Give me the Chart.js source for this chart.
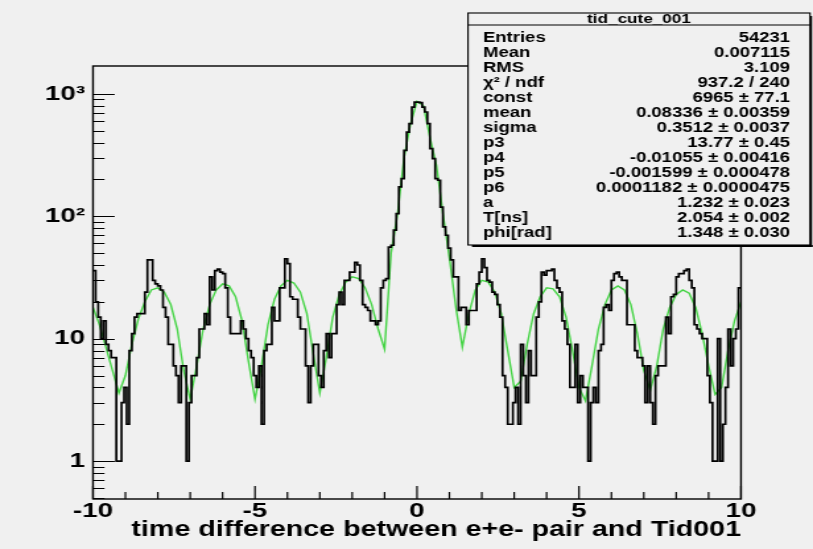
<!DOCTYPE html>
<html>
<head>
<meta charset="utf-8">
<script src="https://cdn.jsdelivr.net/npm/chart.js@4.4.1/dist/chart.umd.min.js"></script>
<style>
  html, body { margin: 0; padding: 0; background: #f0f0f0; }
  #wrap { width: 813px; height: 549px; overflow: hidden; }
  canvas { display: block; }
</style>
</head>
<body>
<div id="wrap"><canvas id="c" width="616" height="549" style="width:813px;height:549px"></canvas></div>
<script>
// Histogram of the time difference (ns), 250 bins from -10 to 10
const histMin = -10;
const histMax = 10;
const binWidth = 0.08;
const binCounts = [
  36, 20, 15, 10, 14, 9, 8, 7, 7, 1,
  1, 3, 4, 2, 8, 11, 15, 16, 16, 16,
  24, 44, 44, 30, 28, 27, 25, 18, 15, 9,
  9, 6, 5, 3, 6, 6, 1, 3, 5, 5,
  7, 12, 12, 16, 13, 32, 25, 36, 37, 35,
  34, 26, 15, 11, 11, 11, 11, 14, 12, 10,
  8, 7, 5, 4, 6, 2, 8, 9, 9, 18,
  14, 14, 26, 26, 45, 41, 22, 21, 21, 15,
  12, 12, 6, 3, 6, 9, 9, 5, 4, 8,
  11, 7, 11, 11, 19, 24, 19, 30, 30, 35,
  35, 42, 40, 30, 19, 18, 17, 14, 14, 13,
  14, 26, 30, 31, 56, 58, 77, 105, 174, 203,
  346, 488, 571, 781, 857, 857, 850, 781, 711, 571,
  357, 296, 203, 197, 119, 82, 70, 55, 44, 32,
  32, 17, 18, 18, 13, 17, 17, 17, 28, 35,
  45, 38, 30, 29, 24, 23, 19, 15, 5, 4,
  2, 2, 3, 4, 2, 9, 5, 3, 8, 5,
  5, 15, 20, 35, 33, 36, 36, 37, 30, 26,
  24, 14, 12, 9, 4, 4, 9, 3, 5, 4,
  4, 1, 3, 4, 3, 8, 9, 18, 19, 17,
  30, 34, 35, 32, 30, 30, 13, 13, 13, 8,
  7, 7, 6, 3, 6, 3, 2, 5, 6, 6,
  6, 15, 11, 22, 23, 32, 34, 34, 36, 37,
  30, 26, 13, 12, 11, 10, 10, 5, 3, 1,
  1, 10, 1, 2, 4, 12, 6, 10, 12, 26
];

// Fitted function (gaussian peak on an oscillating background), sampled
const fitX = [
  -10, -9.8, -9.6, -9.4, -9.2, -9.0, -8.8, -8.6, -8.4, -8.2,
  -8.0, -7.8, -7.6, -7.4, -7.2, -7.0, -6.8, -6.6, -6.4, -6.2,
  -6.0, -5.8, -5.6, -5.4, -5.2, -5.0, -4.8, -4.6, -4.4, -4.2,
  -4.0, -3.8, -3.6, -3.4, -3.2, -3.0, -2.8, -2.6, -2.4, -2.2,
  -2.0, -1.8, -1.6, -1.4, -1.2, -1.0, -0.8, -0.6, -0.4, -0.2,
  0.0, 0.2, 0.4, 0.6, 0.8, 1.0, 1.2, 1.4, 1.6, 1.8,
  2.0, 2.2, 2.4, 2.6, 2.8, 3.0, 3.2, 3.4, 3.6, 3.8,
  4.0, 4.2, 4.4, 4.6, 4.8, 5.0, 5.2, 5.4, 5.6, 5.8,
  6.0, 6.2, 6.4, 6.6, 6.8, 7.0, 7.2, 7.4, 7.6, 7.8,
  8.0, 8.2, 8.4, 8.6, 8.8, 9.0, 9.2, 9.4, 9.6, 9.8, 10.0
];
const fitY = [
  18, 13, 8.5, 5.5, 3.6, 5, 9, 14.5, 20, 25,
  26, 24, 19, 12, 5.5, 3.2, 6, 12, 19, 25,
  28, 27, 22, 14, 6.5, 3.2, 6, 13, 21, 27,
  30, 28.5, 24, 16, 7.5, 3.6, 7, 15, 23, 29,
  32, 31, 26, 19, 12, 8.2, 50, 105, 300, 570,
  870, 800, 440, 260, 105, 46, 18, 8.5, 16, 25,
  30, 29, 24, 16, 8, 4, 4.5, 9, 16, 22,
  26, 25.5, 22, 15, 8, 4, 3.1, 6, 12, 19,
  25, 27, 25, 19, 11, 5.5, 3.8, 6, 12, 18,
  23, 25, 23.5, 18, 11, 6, 3.5, 4, 8, 14, 20
];

// Axis labels
const xTickValues = [-10, -5, 0, 5, 10];
const xTickText = ['-10', '-5', '0', '5', '10'];
const yTickValues = [1, 10, 100, 1000];
const yTickText = ['1', '10', '10\u00B2', '10\u00B3'];
const xTitle = 'time difference between e+e- pair and Tid001';

// Statistics / fit-result box
const statsTitle = 'tid_cute_001';
const statsNames = ['Entries', 'Mean', 'RMS', '\u03C7\u00B2 / ndf', 'const', 'mean', 'sigma',
  'p3', 'p4', 'p5', 'p6', 'a', 'T[ns]', 'phi[rad]'];
const statsValues = ['54231', '0.007115', '3.109', '937.2 / 240', '6965 \u00B1 77.1',
  '0.08336 \u00B1 0.00359', '0.3512 \u00B1 0.0037', '13.77 \u00B1 0.45',
  '-0.01055 \u00B1 0.00416', '-0.001599 \u00B1 0.000478', '0.0001182 \u00B1 0.0000475',
  '1.232 \u00B1 0.023', '2.054 \u00B1 0.002', '1.348 \u00B1 0.030'];

// The canvas is drawn narrower and widened by CSS, giving the broad Helvetica look
const CW = 616;
const SX = 813 / CW;
const FONT = '"Liberation Sans", Arial, Helvetica, sans-serif';

const histPoints = binCounts.map((c, i) => ({ x: histMin + i * binWidth, y: c }));
histPoints.push({ x: histMax, y: binCounts[binCounts.length - 1] });
const fitPoints = fitX.map((x, i) => ({ x: x, y: fitY[i] }));

// Frame and inward tick marks, ROOT style
const framePlugin = {
  id: 'frame',
  afterDatasetsDraw(chart) {
    const { ctx, chartArea: a, scales: { x, y } } = chart;
    ctx.save();
    ctx.strokeStyle = '#000';
    ctx.lineWidth = 1.4;
    ctx.strokeRect(a.left, a.top, a.right - a.left, a.bottom - a.top);
    ctx.lineWidth = 1.2;
    ctx.beginPath();
    for (let e = -1; e <= 3; e++) {
      for (let m = 1; m <= 9; m++) {
        const v = m * Math.pow(10, e);
        if (v < y.min || v > y.max) continue;
        const py = Math.round(y.getPixelForValue(v)) + 0.5;
        const len = (m === 1 ? 21.7 : 11.5) / SX;
        ctx.moveTo(a.left, py);
        ctx.lineTo(a.left + len, py);
      }
    }
    for (let v = histMin; v <= histMax; v += 1) {
      const px = x.getPixelForValue(v);
      const len = (v % 5 === 0) ? 13 : 7;
      ctx.moveTo(px, a.bottom);
      ctx.lineTo(px, a.bottom - len);
    }
    ctx.stroke();
    ctx.restore();
  }
};

// Statistics box in the upper right corner
const statsPlugin = {
  id: 'stats',
  afterDraw(chart) {
    const ctx = chart.ctx;
    const l = 468 / SX, r = 810 / SX, t = 13, b = 245, sep = 25;
    ctx.save();
    ctx.fillStyle = '#000';
    ctx.fillRect(l + 3, b, r - l - 1, 2);
    ctx.fillRect(r, t + 3, 2 / SX, b - t - 1);
    ctx.fillStyle = '#f0f0f0';
    ctx.fillRect(l, t, r - l, b - t);
    ctx.strokeStyle = '#000';
    ctx.lineWidth = 1.1;
    ctx.strokeRect(l, t, r - l, b - t);
    ctx.beginPath();
    ctx.moveTo(l, sep);
    ctx.lineTo(r, sep);
    ctx.stroke();
    ctx.fillStyle = '#000';
    ctx.textBaseline = 'alphabetic';
    ctx.font = 'bold 13px ' + FONT;
    ctx.textAlign = 'center';
    ctx.fillText(statsTitle, (l + r) / 2, 23);
    ctx.font = 'bold 14px ' + FONT;
    for (let i = 0; i < statsNames.length; i++) {
      const base = 41.7 + 15 * i;
      ctx.textAlign = 'left';
      ctx.fillText(statsNames[i], 483 / SX, base);
      ctx.textAlign = 'right';
      ctx.fillText(statsValues[i], 790 / SX, base);
    }
    ctx.restore();
  }
};

new Chart(document.getElementById('c'), {
  type: 'line',
  data: {
    datasets: [
      {
        label: 'histogram',
        data: histPoints,
        stepped: 'before',
        borderColor: '#000',
        borderWidth: 1.7,
        pointRadius: 0,
        fill: false,
        order: 0
      },
      {
        label: 'fit',
        data: fitPoints,
        borderColor: '#45d445',
        borderWidth: 1.4,
        pointRadius: 0,
        tension: 0,
        fill: false,
        order: 1
      }
    ]
  },
  options: {
    responsive: false,
    animation: false,
    devicePixelRatio: 1,
    layout: { padding: { left: 0, top: 66, right: CW - 741 / SX, bottom: 0 } },
    plugins: { legend: { display: false }, tooltip: { enabled: false } },
    scales: {
      x: {
        type: 'linear',
        min: histMin,
        max: histMax,
        grid: { display: false, drawTicks: false },
        border: { display: false },
        afterBuildTicks: s => { s.ticks = xTickValues.map(v => ({ value: v })); },
        afterFit: s => { s.height = 50; },
        ticks: {
          color: '#000',
          padding: 0,
          maxRotation: 0,
          autoSkip: false,
          font: { family: FONT, size: 21, weight: 'bold' },
          callback: (v, i) => xTickText[i]
        },
        title: {
          display: true,
          text: xTitle,
          align: 'end',
          color: '#000',
          font: { family: FONT, size: 21.7, weight: 'bold' },
          padding: { top: 0, bottom: 6 }
        }
      },
      y: {
        type: 'logarithmic',
        min: 0.49,
        max: 1690,
        grid: { display: false, drawTicks: false },
        border: { display: false },
        afterBuildTicks: s => { s.ticks = yTickValues.map(v => ({ value: v })); },
        afterFit: s => { s.width = 93 / SX; },
        ticks: {
          color: '#000',
          padding: 6,
          autoSkip: false,
          font: { family: FONT, size: 21, weight: 'bold' },
          callback: (v, i) => yTickText[i]
        }
      }
    }
  },
  plugins: [framePlugin, statsPlugin]
});
</script>
</body>
</html>
